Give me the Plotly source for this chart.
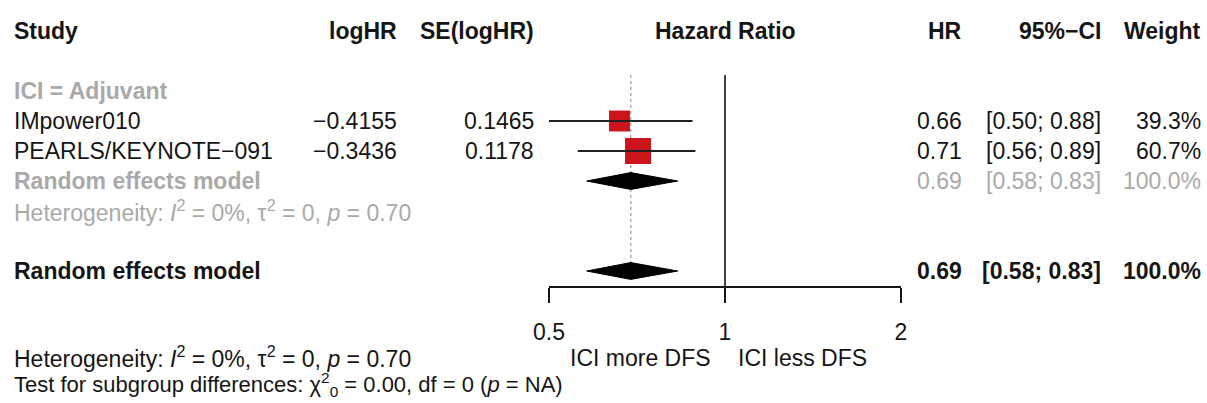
import math
import plotly.graph_objects as go

# ---------------- data ----------------
studies = ["IMpower010", "PEARLS/KEYNOTE\u2212091"]
log_hr = [-0.4155, -0.3436]
se_log_hr = [0.1465, 0.1178]
hr = [0.66, 0.71]
ci_lo = [0.50, 0.56]
ci_hi = [0.88, 0.89]
weights = [39.3, 60.7]
subgroup_label = "ICI = Adjuvant"
pooled_hr = 0.69
pooled_lo = 0.58
pooled_hi = 0.83
pooled_weight = 100.0
x_ticks = [0.5, 1, 2]
label_left = "ICI more DFS"
label_right = "ICI less DFS"

# ---------------- layout constants ----------------
W, H = 1207, 403
FONT = "Liberation Sans, Arial, sans-serif"
FS = 23
FS_HET = 23
FS_TEST = 22
BLACK = "#151515"
GREY = "#a9a9a9"
RED = "#cc141c"

# row indices (row k centred at 31 + 30k px)
R_HEAD, R_SUB, R_S1, R_SUBRE, R_SUBHET, R_ALL = 0, 2, 3, 5, 6, 8
R_AXIS = (287 - 31) / 30
R_LAB = (358 - 31) / 30
R_HET = (357 - 31) / 30
R_TEST = (384 - 31) / 30
y_top = -31 / 30
y_bot = (H - 31) / 30

def px(x):
    return x / W

fig = go.Figure()

# reference line at HR = 1
fig.add_trace(go.Scatter(x=[1, 1], y=[1.47, R_AXIS], mode="lines",
                         line=dict(color=BLACK, width=1.6), hoverinfo="skip"))
# dotted line at pooled estimate
fig.add_trace(go.Scatter(x=[pooled_hr, pooled_hr], y=[1.47, R_ALL], mode="lines",
                         line=dict(color="#9a9a9a", width=1.2, dash="dot"), hoverinfo="skip"))

# squares
sizes = [3.34 * math.sqrt(w) for w in weights]
rows = [R_S1 + i for i in range(len(studies))]
fig.add_trace(go.Scatter(x=hr, y=rows, mode="markers",
                         marker=dict(symbol="square", size=sizes, color=RED, opacity=1,
                                     line=dict(width=0)),
                         hoverinfo="skip"))
# CI lines
for lo, hi, r in zip(ci_lo, ci_hi, rows):
    fig.add_trace(go.Scatter(x=[lo, hi], y=[r, r], mode="lines",
                             line=dict(color="#202020", width=2.2), hoverinfo="skip"))

# diamonds
DH = 0.28
for r in (R_SUBRE, R_ALL):
    fig.add_trace(go.Scatter(x=[pooled_lo, pooled_hr, pooled_hi, pooled_hr, pooled_lo],
                             y=[r, r - DH, r, r + DH, r], mode="lines", fill="toself",
                             fillcolor="black", line=dict(color="black", width=1),
                             hoverinfo="skip"))

ann = []

def txt(text, xp, row, anchor="left", bold=False, color=BLACK, size=FS, xref="paper"):
    t = f"<b>{text}</b>" if bold else text
    ann.append(dict(text=t, x=xp, y=row, xref=xref, yref="y", xanchor=anchor,
                    yanchor="middle", showarrow=False, borderpad=0,
                    font=dict(family=FONT, size=size, color=color)))

# header
txt("Study", px(13), R_HEAD, bold=True)
txt("logHR", px(398), R_HEAD, "right", bold=True)
txt("SE(logHR)", px(535), R_HEAD, "right", bold=True)
txt("Hazard Ratio", 0, R_HEAD, "center", bold=True, xref="x")
txt("HR", px(963), R_HEAD, "right", bold=True)
txt("95%\u2212CI", px(1102), R_HEAD, "right", bold=True)
txt("Weight", px(1202), R_HEAD, "right", bold=True)

# subgroup
txt(subgroup_label, px(13), R_SUB, bold=True, color=GREY)
for i, s in enumerate(studies):
    r = rows[i]
    txt(s, px(13), r)
    txt(f"{log_hr[i]:.4f}".replace("-", "\u2212"), px(398), r, "right")
    txt(f"{se_log_hr[i]:.4f}", px(535), r, "right")
    txt(f"{hr[i]:.2f}", px(963), r, "right")
    txt(f"[{ci_lo[i]:.2f}; {ci_hi[i]:.2f}]", px(1102), r, "right")
    txt(f"{weights[i]:.1f}%", px(1202), r, "right")

het = "Heterogeneity: <i>I</i><sup>2</sup> = 0%, \u03c4<sup>2</sup> = 0, <i>p</i> = 0.70"
txt("Random effects model", px(13), R_SUBRE, bold=True, color=GREY)
txt(f"{pooled_hr:.2f}", px(963), R_SUBRE, "right", color=GREY)
txt(f"[{pooled_lo:.2f}; {pooled_hi:.2f}]", px(1102), R_SUBRE, "right", color=GREY)
txt(f"{pooled_weight:.1f}%", px(1202), R_SUBRE, "right", color=GREY)
txt(het, px(13), R_SUBHET, color=GREY, size=FS_HET)

# overall
txt("Random effects model", px(13), R_ALL, bold=True)
txt(f"{pooled_hr:.2f}", px(963), R_ALL, "right", bold=True)
txt(f"[{pooled_lo:.2f}; {pooled_hi:.2f}]", px(1102), R_ALL, "right", bold=True)
txt(f"{pooled_weight:.1f}%", px(1202), R_ALL, "right", bold=True)

# bottom
txt(het, px(13), R_HET, size=FS_HET)
txt("Test for subgroup differences: \u03c7<sup>2</sup><sub>0</sub> = 0.00, df = 0 (<i>p</i> = NA)",
    px(13), R_TEST, size=FS_TEST)

# direction labels
ann.append(dict(text=label_left, x=0, y=R_LAB, xref="x", yref="y", xanchor="right",
                yanchor="middle", xshift=-13, showarrow=False, borderpad=0,
                font=dict(family=FONT, size=FS, color=BLACK)))
ann.append(dict(text=label_right, x=0, y=R_LAB, xref="x", yref="y", xanchor="left",
                yanchor="middle", xshift=12, showarrow=False, borderpad=0,
                font=dict(family=FONT, size=FS, color=BLACK)))

axis_pos = (y_bot - R_AXIS) / (y_bot - y_top)

fig.update_layout(
    template="none",
    width=W, height=H,
    margin=dict(l=0, r=0, t=0, b=0, pad=0, autoexpand=False),
    paper_bgcolor="white", plot_bgcolor="white",
    showlegend=False,
    annotations=ann,
    xaxis=dict(type="log", range=[math.log10(0.5), math.log10(2)],
               domain=[549 / W, 901 / W], anchor="free", position=axis_pos,
               automargin=False,
               showgrid=False, zeroline=False, showline=True,
               linecolor=BLACK, linewidth=1.6,
               ticks="outside", ticklen=15, tickwidth=1.6, tickcolor=BLACK,
               tickvals=x_ticks, ticktext=[str(v) for v in x_ticks],
               ticklabelstandoff=10,
               tickfont=dict(family=FONT, size=FS, color=BLACK),
               fixedrange=True),
    yaxis=dict(range=[y_bot, y_top], domain=[0, 1], visible=False, automargin=False,
               showgrid=False, zeroline=False, fixedrange=True),
)

fig.write_html("out.html")
